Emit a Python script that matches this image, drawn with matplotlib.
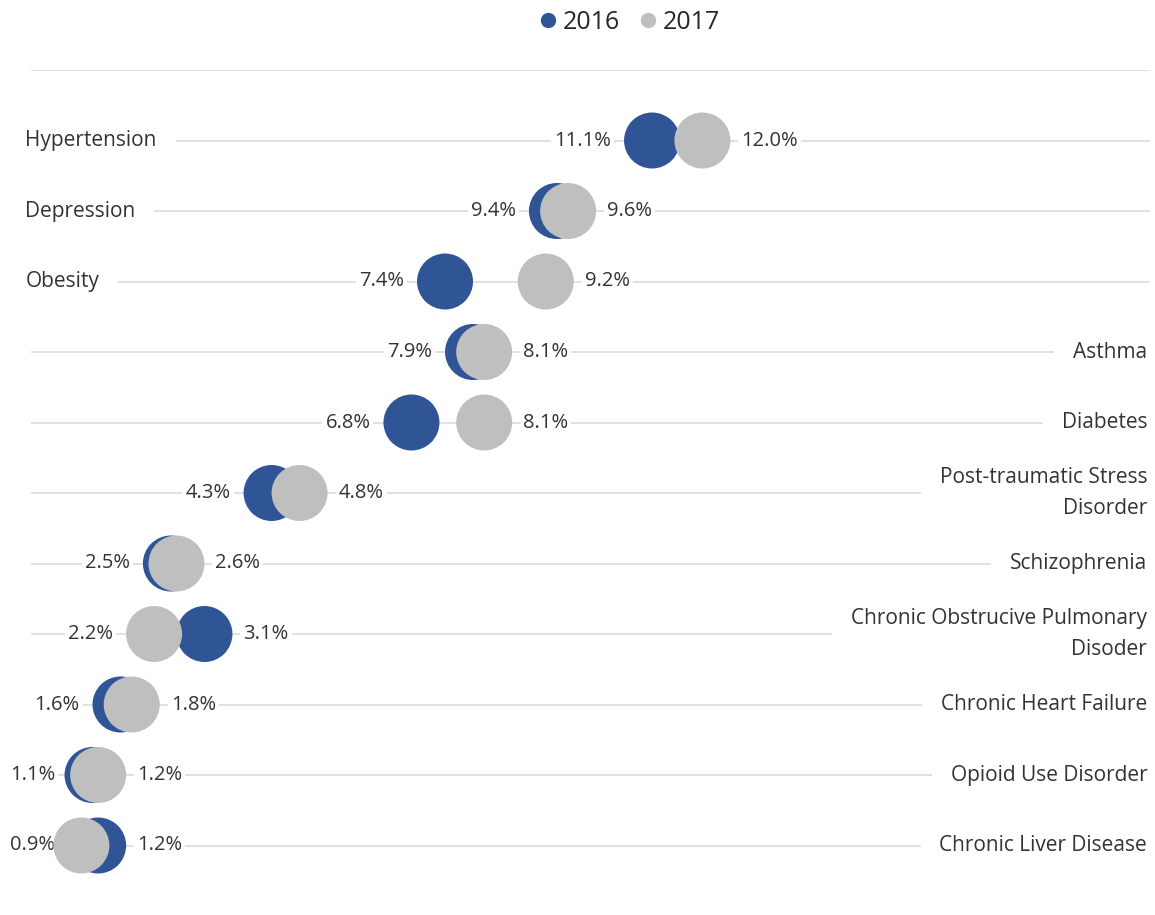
import matplotlib
matplotlib.use("Agg")
import matplotlib.pyplot as plt
from matplotlib.lines import Line2D

plt.rcParams['font.family'] = ['Open Sans', 'DejaVu Sans']

categories = ["Hypertension", "Depression", "Obesity", "Asthma", "Diabetes",
              "Post-traumatic Stress\nDisorder", "Schizophrenia",
              "Chronic Obstrucive Pulmonary\nDisoder", "Chronic Heart Failure",
              "Opioid Use Disorder", "Chronic Liver Disease"]
v2016 = [11.1, 9.4, 7.4, 7.9, 6.8, 4.3, 2.5, 3.1, 1.6, 1.1, 1.2]
v2017 = [12.0, 9.6, 9.2, 8.1, 8.1, 4.8, 2.6, 2.2, 1.8, 1.2, 0.9]
label_left = [True, True, True, False, False, False, False, False, False, False, False]

BLUE = "#2F5597"
GRAY = "#BFBFBF"
GRID = "#D9D9D9"
TXT = "#333333"

W, H = 1155, 915
fig = plt.figure(figsize=(W / 100, H / 100), dpi=100)
# axes: x 0..20 over px 31..1150, rows 70.5 px apart starting at px 70
row_px = 70.5
ymax = 11.95
ax = fig.add_axes([31 / W, (H - 70 - ymax * row_px) / H, 1119 / W, ymax * row_px / H])
ax.set_xlim(0, 20)
ax.set_ylim(ymax, 0)
ax.axis("off")
ppu = 1119 / 20  # pixels per x unit

rows = list(range(len(categories)))
ax.hlines([0] + [r + 1 for r in rows], 0, 20, color=GRID, lw=1.1, zorder=0)

ys = [r + 1 for r in rows]
ms = (56 * 72 / 100) ** 2
ax.scatter(v2016, ys, s=ms, color=BLUE, edgecolors="none", zorder=3)
ax.scatter(v2017, ys, s=ms, color=GRAY, edgecolors="none", zorder=4)

box = dict(boxstyle="square,pad=0.15", fc="white", ec="none")
for y, a, b in zip(ys, v2016, v2017):
    lo, hi = min(a, b), max(a, b)
    # keep the left label inside the plot, like excel does
    xl = max(lo - 41 / ppu, 24 / ppu)
    ax.text(xl, y, f"{lo:.1f}%", ha="right", va="center", fontsize=14.5, color=TXT,
            bbox=box, zorder=2)
    ax.text(hi + 39 / ppu, y, f"{hi:.1f}%", ha="left", va="center", fontsize=14.5,
            color=TXT, bbox=box, zorder=2)

cat_box = dict(boxstyle="square,pad=0.9", fc="white", ec="none")
for y, name, left in zip(ys, categories, label_left):
    if left:
        ax.text(-0.1, y, name, ha="left", va="center", fontsize=15, color=TXT,
                bbox=cat_box, zorder=1)
    else:
        ax.text(19.95, y, name, ha="right", va="center", fontsize=15, color=TXT,
                bbox=cat_box, zorder=1, multialignment="right", linespacing=1.6)

handles = [Line2D([], [], marker="o", ls="none", color=BLUE, markersize=10),
           Line2D([], [], marker="o", ls="none", color=GRAY, markersize=10)]
fig.legend(handles, ["2016", "2017"], loc="upper center", bbox_to_anchor=(628 / W, 1.014),
           ncol=2, frameon=False, fontsize=18, handletextpad=0.1, columnspacing=0.6,
           handlelength=1.0, labelcolor="#262626")

fig.savefig("out.png", dpi=100)
